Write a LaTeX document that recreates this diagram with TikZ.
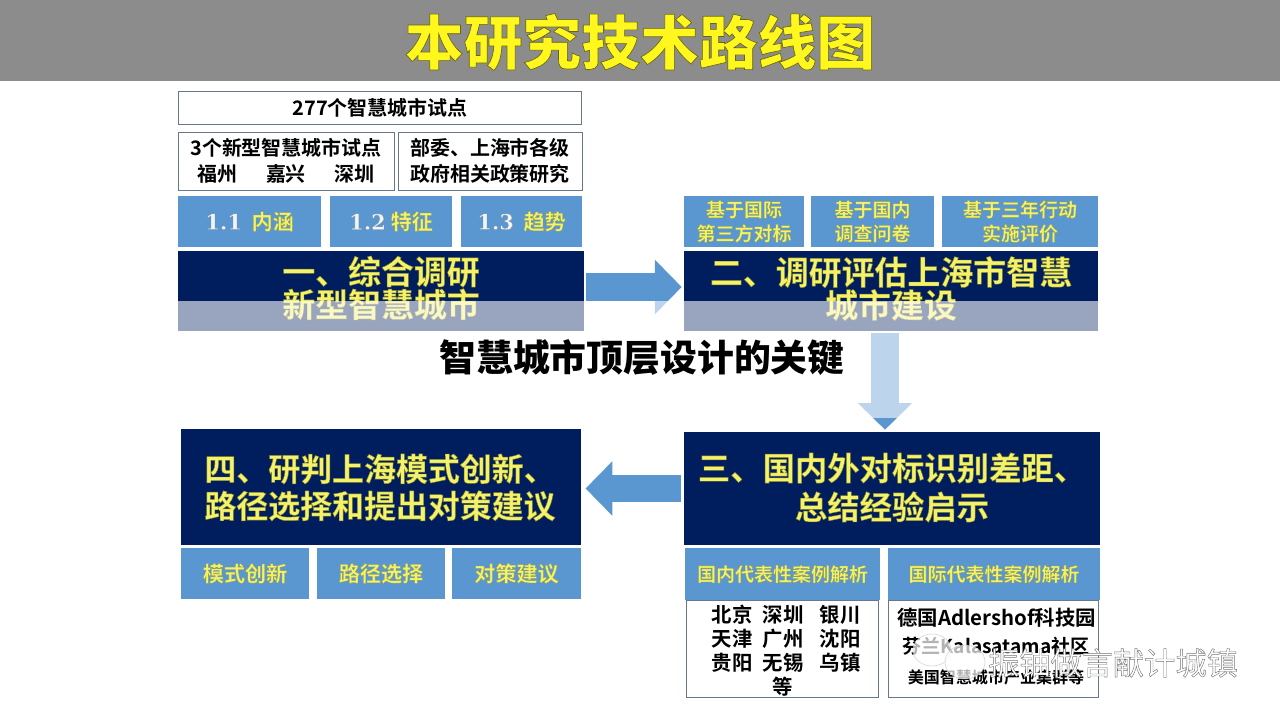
\documentclass[tikz,border=0pt]{standalone}
\usepackage{fontspec}
\setmainfont{Noto Sans CJK SC}[BoldFont=Noto Sans CJK SC Bold]
\newfontfamily\blackfont{Noto Sans CJK SC Black}
\newfontfamily\numfont{DejaVu Serif Bold}
\usetikzlibrary{arrows.meta}
\definecolor{navybox}{HTML}{001D5E}
\definecolor{bluebox}{HTML}{5A97D0}
\definecolor{yellowtext}{HTML}{F4F26A}
\definecolor{titleyellow}{HTML}{FFF71E}
\definecolor{framegray}{HTML}{66788A}
\definecolor{numwhite}{HTML}{F2F5F8}
\definecolor{barside}{HTML}{8C8C8C}
\definecolor{barmid}{HTML}{727272}
% Outline on the glyphs, stands in for the text shadow
\newcommand{\glyphedge}[2]{\special{pdf:code 2 Tr #1 w #2 RG}}
\newcommand{\skyedge}{\glyphedge{0.2}{0.6 0.62 0.25}}
\newcommand{\darkedge}{\glyphedge{0.3}{0.5 0.5 0.15}}
\newcommand{\secnum}[1]{{\numfont\color{numwhite}\glyphedge{0.2}{0.5 0.55 0.6}#1}}
\tikzset{
  boxsize/.style 2 args={minimum width=#1*0.7113pt, minimum height=#2*0.7113pt},
  whitebox/.style={draw=framegray, fill=white, inner sep=0pt, align=center, text=black, font=\bfseries\fontsize{14.2}{18.5}\selectfont},
  skybox/.style={fill=bluebox, inner sep=0pt, align=center, text=yellowtext, font=\bfseries\fontsize{13.5}{17}\selectfont},
  skybig/.style={skybox, font=\bfseries\fontsize{15}{17}\selectfont},
  darkbox/.style={fill=navybox, inner sep=0pt},
  darklabel/.style={inner sep=0pt, align=center, text=yellowtext, font=\bfseries\fontsize{23.4}{23.4}\selectfont},
  listlabel/.style={inner sep=0pt, align=center, font=\bfseries\fontsize{14.5}{17}\selectfont},
  flowarrow/.style={draw=bluebox, line width=19.5pt, -{Triangle[length=19pt, width=37.5pt]}}
}
\begin{document}
\begin{tikzpicture}[x=0.025cm, y=-0.025cm]
\useasboundingbox (0, 0) rectangle (1280, 720);
\fill[white] (0, 0) rectangle (1280, 720);
% Title bar
\shade[left color=barside, middle color=barmid, right color=barside] (0, 0) rectangle (1280, 81);
\node[text=titleyellow, font=\blackfont\fontsize{41.8}{45}\selectfont, inner sep=0pt] (titlebar) at (640, 42) {\glyphedge{0.45}{0.4 0.4 0.05}本研究技术路线图};

% Block one
\node[whitebox, boxsize={403}{33}] (pilots) at (380, 107.5) {277个智慧城市试点};
\node[whitebox, boxsize={216}{58}] (newpilots) at (286, 161) {3个新型智慧城市试点\\福州\hspace{20pt}嘉兴\hspace{20pt}深圳};
\node[whitebox, boxsize={184}{58}] (policy) at (490, 161) {部委、上海市各级\\政府相关政策研究};
\node[skybig, boxsize={143}{51}] (meaning) at (249.5, 221.5) {\secnum{1.1}\skyedge\ \ 内涵};
\node[skybig, boxsize={122}{51}] (feature) at (391, 221.5) {\secnum{1.2}\skyedge\ 特征};
\node[skybig, boxsize={121}{51}] (trend) at (521.5, 221.5) {\secnum{1.3}\skyedge\ \ 趋势};
\node[darkbox, boxsize={406}{80}] (one) at (381, 291) {};
\node[darklabel] (onelabel) at (381, 288) {\darkedge 一、综合调研\\新型智慧城市};

% Block two
\node[skybox, boxsize={120}{51}] (thirdparty) at (744, 221.5) {\skyedge 基于国际\\第三方对标};
\node[skybox, boxsize={123}{51}] (survey) at (872.5, 221.5) {\skyedge 基于国内\\调查问卷};
\node[skybox, boxsize={156}{51}] (review) at (1020, 221.5) {\skyedge 基于三年行动\\实施评价};
\node[darkbox, boxsize={414}{80}] (two) at (891, 291) {};
\node[darklabel] (twolabel) at (891, 288.5) {\darkedge 二、调研评估上海市智慧\\城市建设};

% Block three
\node[darkbox, boxsize={416}{113}] (three) at (892, 488.5) {};
\node[darklabel, font=\bfseries\fontsize{23}{27.7}\selectfont] (threelabel) at (892, 487.5) {\darkedge 三、国内外对标识别差距、\\总结经验启示};
\node[skybox, boxsize={195}{52}] (domestic) at (782.5, 574) {\skyedge 国内代表性案例解析};
\node[skybox, boxsize={212}{52}] (abroad) at (994, 574) {\skyedge 国际代表性案例解析};
\node[whitebox, boxsize={192}{97}] (domesticlist) at (782, 648.5) {};
\node[whitebox, boxsize={210}{97}] (abroadlist) at (993, 648.5) {};
\node[listlabel] (citiesa) at (732, 639) {北京\\天津\\贵阳};
\node[listlabel] (citiesb) at (783, 650.5) {深圳\\广州\\无锡\\等};
\node[listlabel] (citiesc) at (840, 639) {银川\\沈阳\\乌镇};
\node[listlabel] (adlershof) at (996.5, 618) {德国Adlershof科技园};
\node[listlabel, font=\bfseries\fontsize{13.6}{17}\selectfont] (kalasatama) at (996, 646) {芬兰Kalasatama社区};
\node[listlabel, font=\bfseries\fontsize{11.4}{14}\selectfont] (usa) at (996, 677) {美国智慧城市产业集群等};

% Block four
\node[darkbox, boxsize={400}{116}] (four) at (381, 487) {};
\node[darklabel, font=\bfseries\fontsize{22.7}{26.3}\selectfont] (fourlabel) at (380, 487.5) {\darkedge 四、研判上海模式创新、\\路径选择和提出对策建议};
\node[skybig, boxsize={128}{51}] (mode) at (245, 573.5) {\skyedge 模式创新};
\node[skybig, boxsize={128}{51}] (path) at (381, 573.5) {\skyedge 路径选择};
\node[skybig, boxsize={129}{51}] (advice) at (516.5, 573.5) {\skyedge 对策建议};

% Arrows between the blocks
\draw[flowarrow, shorten <=1.4pt, shorten >=1.4pt] (one.east |- 0, 287) -- (two.west |- 0, 287);
\draw[flowarrow, shorten <=1.4pt, shorten >=1.4pt] (two.south -| 885, 0) -- (three.north -| 885, 0);
\draw[flowarrow, shorten <=2pt, shorten >=3pt] (three.west) -- (four.east |- three.west);

% Pale band and slogan
\fill[white, opacity=0.6] (0, 301) rectangle (1280, 418);
\node[font=\blackfont\fontsize{26.2}{30}\selectfont, inner sep=0pt] (slogan) at (642, 358) {智慧城市顶层设计的关键};

% Watermark
\fill[white, opacity=0.7, draw=gray!50] (932, 650) ellipse (19 and 16);
\fill[white, opacity=0.7, draw=gray!50] (965, 662) ellipse (20 and 17);
\node[text=white, font=\fontsize{22.2}{26}\selectfont, inner sep=0pt] (mark) at (1113, 663) {\glyphedge{0.3}{0.45 0.45 0.45}振铀做言献计城镇};
\end{tikzpicture}
\end{document}
